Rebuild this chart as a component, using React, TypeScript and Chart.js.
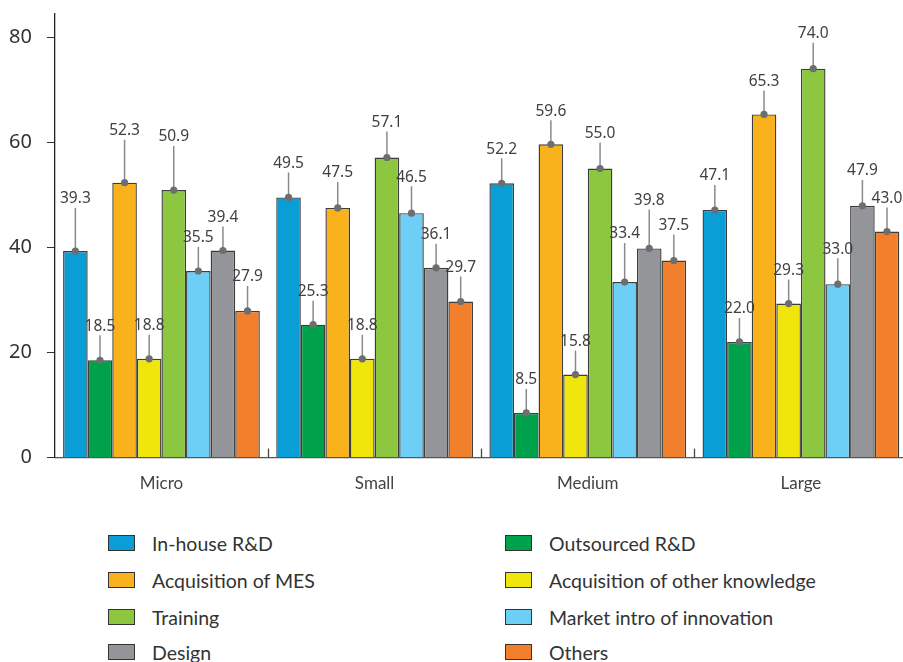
import React, { useEffect, useRef } from "react";
import { Chart, registerables } from "chart.js";

Chart.register(...registerables);

const categories = ["Micro", "Small", "Medium", "Large"];
const seriesNames = [
  "In-house R&D",
  "Outsourced R&D",
  "Acquisition of MES",
  "Acquisition of other knowledge",
  "Training",
  "Market intro of innovation",
  "Design",
  "Others",
];
const inHouseRD = [39.3, 49.5, 52.2, 47.1];
const outsourcedRD = [18.5, 25.3, 8.5, 22.0];
const acquisitionMES = [52.3, 47.5, 59.6, 65.3];
const otherKnowledge = [18.8, 18.8, 15.8, 29.3];
const training = [50.9, 57.1, 55.0, 74.0];
const marketIntro = [35.5, 46.5, 33.4, 33.0];
const design = [39.4, 36.1, 39.8, 47.9];
const others = [27.9, 29.7, 37.5, 43.0];
const yTicks = [0, 20, 40, 60, 80];

const seriesValues = [inHouseRD, outsourcedRD, acquisitionMES, otherKnowledge, training, marketIntro, design, others];
const seriesColors = ["#0a9ed6", "#00a14b", "#f9b21b", "#f0e60c", "#8dc63f", "#6dcff6", "#939598", "#f27f2b"];

// label lift above the bar top (px), per series per category
const labelLifts = [
  [52, 34, 34, 34],
  [34, 33, 33, 33],
  [52, 35, 33, 33],
  [33, 33, 33, 33],
  [53, 35, 35, 35],
  [33, 36, 48, 35],
  [33, 33, 48, 35],
  [34, 34, 35, 33],
];

const labelFont = "'Noto Sans', 'Open Sans', sans-serif";

const leaderPlugin = {
  id: "leaders",
  afterDatasetsDraw(chart: any) {
    const ctx = chart.ctx;
    const area = chart.chartArea;
    const xs = chart.scales.x;
    ctx.save();
    ctx.strokeStyle = "#444";
    ctx.lineWidth = 1.3;
    for (let k = 1; k < categories.length; k++) {
      const px = Math.round((xs.getPixelForValue(k - 1) + xs.getPixelForValue(k)) / 2) + 0.5;
      ctx.beginPath();
      ctx.moveTo(px, area.bottom);
      ctx.lineTo(px, area.bottom - 9);
      ctx.stroke();
    }
    ctx.restore();

    chart.data.datasets.forEach((ds: any, di: number) => {
      const meta = chart.getDatasetMeta(di);
      meta.data.forEach((bar: any, i: number) => {
        const x = bar.x;
        const y = bar.y;
        const ly = y - labelLifts[di][i];
        ctx.save();
        ctx.strokeStyle = "#8a8a8c";
        ctx.lineWidth = 1.5;
        ctx.beginPath();
        ctx.moveTo(x, y);
        ctx.lineTo(x, ly + 9);
        ctx.stroke();
        ctx.fillStyle = "#6d6e71";
        ctx.beginPath();
        ctx.arc(x, y, 3.6, 0, Math.PI * 2);
        ctx.fill();
        ctx.font = "15.5px " + labelFont;
        ctx.fillStyle = "#414042";
        ctx.textAlign = "center";
        ctx.textBaseline = "middle";
        ctx.fillText(Number(ds.data[i]).toFixed(1), x, ly);
        ctx.restore();
      });
    });
  },
};

export default function App() {
  const ref = useRef<HTMLCanvasElement | null>(null);

  useEffect(() => {
    if (!ref.current) return;
    const chart = new Chart(ref.current, {
      type: "bar",
      data: {
        labels: categories,
        datasets: seriesNames.map((name, i) => ({
          label: name,
          data: seriesValues[i],
          backgroundColor: seriesColors[i],
          borderColor: "#3d3d3d",
          borderWidth: 1.4,
          categoryPercentage: 0.923,
          barPercentage: 1,
        })),
      },
      options: {
        animation: false,
        responsive: false,
        devicePixelRatio: 1,
        layout: { padding: { left: -6, right: 4.5, top: 14, bottom: 8 } },
        plugins: { legend: { display: false }, tooltip: { enabled: false } },
        scales: {
          x: {
            grid: { display: false, drawTicks: false },
            border: { display: true, color: "#555", width: 1.3 },
            ticks: { padding: 16, font: { family: "Lato", size: 17 }, color: "#444" },
          },
          y: {
            min: 0,
            max: 84.4,
            afterBuildTicks: (s: any) => {
              s.ticks = yTicks.map((v) => ({ value: v }));
            },
            afterFit: (s: any) => {
              s.paddingTop = 0;
              s.paddingBottom = 0;
            },
            grid: { display: true, drawOnChartArea: false, drawTicks: true, tickLength: 8, color: "#333", tickColor: "#333" },
            border: { display: true, color: "#222", width: 1.3 },
            ticks: { padding: 15, font: { family: labelFont, size: 20 }, color: "#333" },
          },
        },
      },
      plugins: [leaderPlugin],
    });
    return () => chart.destroy();
  }, []);

  const rowsY = [543, 580, 617, 652];
  const colX = [108, 505];

  return (
    <div style={{ position: "absolute", left: 0, top: 0, width: 903, height: 662, overflow: "hidden", background: "#fff" }}>
      <canvas ref={ref} width={912} height={518} style={{ position: "absolute", left: 0, top: 0, width: 912, height: 518 }} />
      {seriesNames.map((name, i) => {
        const row = Math.floor(i / 2);
        const col = i % 2;
        return (
          <div
            key={name}
            style={{
              position: "absolute",
              left: colX[col],
              top: rowsY[row] - 12,
              height: 24,
              display: "flex",
              alignItems: "center",
              fontFamily: "Lato",
              fontSize: 19.5,
              color: "#333",
              whiteSpace: "nowrap",
            }}
          >
            <span
              style={{
                display: "inline-block",
                width: 27,
                height: 16,
                boxSizing: "border-box",
                border: "1.3px solid #333",
                background: seriesColors[i],
                marginRight: 17,
              }}
            />
            {name}
          </div>
        );
      })}
    </div>
  );
}
